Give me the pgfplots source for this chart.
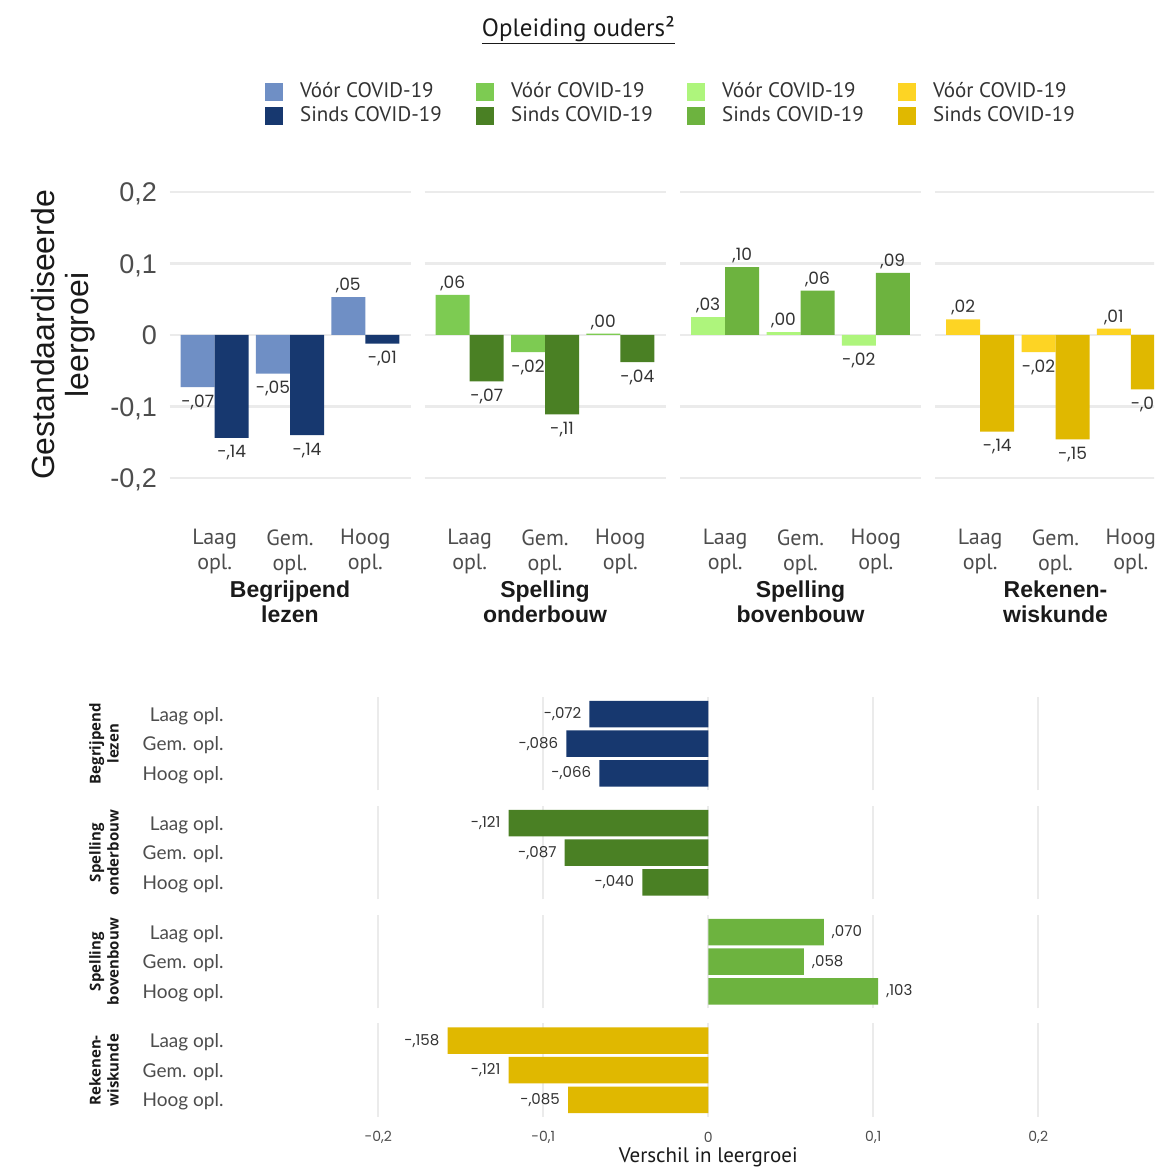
\documentclass[border=0pt]{standalone}
\usepackage{fontspec}
\setmainfont{Liberation Sans}
\newfontfamily\ptsans{PT Sans}
\newfontfamily\pop{Poppins}
\newfontfamily\lato{Lato}
\newfontfamily\osans{Open Sans}
\usepackage{pgfplots}
\usepackage{pgfplotstable}
\pgfplotsset{compat=1.18}

\definecolor{blueA}{HTML}{6F8FC5}
\definecolor{blueB}{HTML}{17386F}
\definecolor{grnA}{HTML}{7DCB52}
\definecolor{grnB}{HTML}{4A8024}
\definecolor{limA}{HTML}{AEF57C}
\definecolor{limB}{HTML}{6DB33F}
\definecolor{ylwA}{HTML}{FDD424}
\definecolor{ylwB}{HTML}{E0B800}
\definecolor{gridc}{HTML}{EBEBEB}
\definecolor{txt}{HTML}{1A1A1A}
\definecolor{tickc}{HTML}{4D4D4D}
\definecolor{lbl}{HTML}{333333}

\newcommand{\fs}[2]{\fontsize{#1}{#2}\selectfont}

% top panel: x = group, v = voor, s = sinds (labels as printed)
\pgfplotstableread{
x v lv s ls
1 -0.073 -,07 -0.144 -,14
2 -0.054 -,05 -0.140 -,14
3 0.053 ,05 -0.012 -,01
}\tBL
\pgfplotstableread{
x v lv s ls
1 0.056 ,06 -0.065 -,07
2 -0.024 -,02 -0.111 -,11
3 0.002 ,00 -0.038 -,04
}\tSO
\pgfplotstableread{
x v lv s ls
1 0.025 ,03 0.095 ,10
2 0.004 ,00 0.062 ,06
3 -0.015 -,02 0.087 ,09
}\tSB
\pgfplotstableread{
x v lv s ls
1 0.022 ,02 -0.135 -,14
2 -0.024 -,02 -0.146 -,15
3 0.009 ,01 -0.076 -,08
}\tRW

% bottom panel: y 3 = Laag, 2 = Gem., 1 = Hoog
\pgfplotstableread{
y d lab
3 -0.072 -,072
2 -0.086 -,086
1 -0.066 -,066
}\dBL
\pgfplotstableread{
y d lab
3 -0.121 -,121
2 -0.087 -,087
1 -0.040 -,040
}\dSO
\pgfplotstableread{
y d lab
3 0.070 ,070
2 0.058 ,058
1 0.103 ,103
}\dSB
\pgfplotstableread{
y d lab
3 -0.158 -,158
2 -0.121 -,121
1 -0.085 -,085
}\dRW

\pgfplotsset{
  topfacet/.style={
    scale only axis, width=241pt, height=286pt, anchor=south west,
    xmin=0.4, xmax=3.6, ymin=-0.2, ymax=0.2,
    ybar=0pt, bar width=34pt,
    axis line style={draw=none}, major tick style={draw=none},
    ytick={-0.2,-0.1,0,0.1,0.2}, yticklabels={},
    ymajorgrids, grid style={gridc, line width=2.5pt},
    xtick={1,2,3},
    xticklabels={{Laag\\opl.},{Gem.\\opl.},{Hoog\\opl.}},
    xticklabel style={align=center, anchor=north, inner sep=0pt, yshift=-47pt,
      font=\ptsans\fs{22}{25}, text=tickc},
    xlabel style={at={(axis description cs:0.5,0)}, anchor=north, yshift=-103pt,
      inner sep=0pt, align=center, font=\bfseries\fs{23}{25}, text=txt},
    nodes near coords, point meta=explicit symbolic,
    visualization depends on={y \as \yv},
    every node near coord/.append style={font=\pop\fs{17}{20}, text=lbl,
      inner sep=2pt, text height=17.8pt, text depth=4.3pt,
      anchor={\ifdim\yv pt<0pt north\else south\fi}},
  },
  botfacet/.style={
    scale only axis, width=940.5pt, height=93.5pt, anchor=north west,
    xmin=-0.285, xmax=0.285, ymin=0.42, ymax=3.58,
    xbar, bar width=26.5pt, bar shift=0pt,
    axis line style={draw=none}, major tick style={draw=none},
    xtick={-0.2,-0.1,0,0.1,0.2}, xticklabels={},
    xmajorgrids, grid style={gridc, line width=2pt},
    ytick={1,2,3}, yticklabels={Hoog opl.,Gem. opl.,Laag opl.},
    yticklabel style={font=\lato\fs{19}{22}, text=tickc, inner sep=0pt,
      xshift=-10pt, text height=13.7pt, text depth=0pt},
    ylabel style={at={(axis description cs:-0.1425,0.5)}, anchor=center,
      align=center, font=\osans\bfseries\fs{15}{18}, text=txt},
    nodes near coords, point meta=explicit symbolic,
    visualization depends on={x \as \xv},
    every node near coord/.append style={font=\pop\fs{15}{17}, text=lbl,
      inner xsep=8pt, anchor={\ifdim\xv pt<0pt east\else west\fi}},
  },
}

\begin{document}
\begin{tikzpicture}
\useasboundingbox (0,0) rectangle (1154pt,1169pt);
\clip (0,0) rectangle (1154pt,1169pt);
\fill[white] (0,0) rectangle (1154pt,1169pt);

\node[font=\ptsans\fs{25}{28}, text=txt, anchor=base] at (578.5pt,1132pt)
  {\underline{Opleiding ouders²}};

% legend
\begin{axis}[at={(265pt,1087pt)}, anchor=north west, scale only axis,
  width=10pt, height=10pt, hide axis, xmin=0, xmax=1, ymin=0, ymax=1,
  legend columns=4, legend cell align=left,
  legend style={at={(0,1)}, anchor=north west, draw=none, fill=none,
    inner sep=0pt, column sep=0pt, row sep=4pt,
    font=\ptsans\fs{21}{24}, text=lbl,
    nodes={inner sep=0pt, text height=15pt, text depth=5pt}},
  legend image code/.code={\path[#1] (0pt,-9pt) rectangle (18pt,9pt);},
]
\addlegendimage{fill=blueA, draw=none}
\addlegendentry{\hspace*{17pt}\makebox[176pt][l]{Vóór COVID-19}}
\addlegendimage{fill=grnA, draw=none}
\addlegendentry{\hspace*{17pt}\makebox[176pt][l]{Vóór COVID-19}}
\addlegendimage{fill=limA, draw=none}
\addlegendentry{\hspace*{17pt}\makebox[176pt][l]{Vóór COVID-19}}
\addlegendimage{fill=ylwA, draw=none}
\addlegendentry{\hspace*{17pt}\makebox[176pt][l]{Vóór COVID-19}}
\addlegendimage{fill=blueB, draw=none}
\addlegendentry{\hspace*{17pt}\makebox[176pt][l]{Sinds COVID-19}}
\addlegendimage{fill=grnB, draw=none}
\addlegendentry{\hspace*{17pt}\makebox[176pt][l]{Sinds COVID-19}}
\addlegendimage{fill=limB, draw=none}
\addlegendentry{\hspace*{17pt}\makebox[176pt][l]{Sinds COVID-19}}
\addlegendimage{fill=ylwB, draw=none}
\addlegendentry{\hspace*{17pt}\makebox[176pt][l]{Sinds COVID-19}}
\end{axis}

% ---------- top panel ----------
\begin{axis}[topfacet, at={(169.5pt,691pt)},
  yticklabels={{-0,2},{-0,1},0,{0,1},{0,2}},
  yticklabel style={font=\fs{27}{30}, text=tickc, inner sep=0pt, xshift=-12.5pt,
    text height=19.4pt, text depth=0pt, anchor=east},
  ylabel={Gestandaardiseerde\\leergroei},
  ylabel style={at={(axis description cs:-0.442,0.5)}, anchor=center,
    align=center, font=\fs{32}{34}, text=txt},
  xlabel={Begrijpend\\lezen}]
\addplot[fill=blueA, draw=none] table[x=x, y=v, meta=lv] {\tBL};
\addplot[fill=blueB, draw=none] table[x=x, y=s, meta=ls] {\tBL};
\end{axis}

\begin{axis}[topfacet, at={(424.5pt,691pt)}, xlabel={Spelling\\onderbouw}]
\addplot[fill=grnA, draw=none] table[x=x, y=v, meta=lv] {\tSO};
\addplot[fill=grnB, draw=none] table[x=x, y=s, meta=ls] {\tSO};
\end{axis}

\begin{axis}[topfacet, at={(680pt,691pt)}, xlabel={Spelling\\bovenbouw}]
\addplot[fill=limA, draw=none] table[x=x, y=v, meta=lv] {\tSB};
\addplot[fill=limB, draw=none] table[x=x, y=s, meta=ls] {\tSB};
\end{axis}

\begin{axis}[topfacet, at={(935pt,691pt)}, xlabel={Rekenen-\\wiskunde}]
\addplot[fill=ylwA, draw=none] table[x=x, y=v, meta=lv] {\tRW};
\addplot[fill=ylwB, draw=none] table[x=x, y=s, meta=ls] {\tRW};
\end{axis}

% ---------- bottom panel ----------
\begin{axis}[botfacet, at={(238pt,472pt)}, ylabel={Begrijpend\\lezen}]
\addplot[fill=blueB, draw=none] table[x=d, y=y, meta=lab] {\dBL};
\end{axis}

\begin{axis}[botfacet, at={(238pt,363pt)}, ylabel={Spelling\\onderbouw}]
\addplot[fill=grnB, draw=none] table[x=d, y=y, meta=lab] {\dSO};
\end{axis}

\begin{axis}[botfacet, at={(238pt,254pt)}, ylabel={Spelling\\bovenbouw}]
\addplot[fill=limB, draw=none] table[x=d, y=y, meta=lab] {\dSB};
\end{axis}

\begin{axis}[botfacet, at={(238pt,145.5pt)}, ylabel={Rekenen-\\wiskunde},
  xticklabels={{-0,2},{-0,1},0,{0,1},{0,2}},
  xticklabel style={font=\pop\fs{14}{16}, text=tickc, inner sep=0pt,
    anchor=center, yshift=-20pt},
  xlabel={Verschil in leergroei},
  xlabel style={at={(axis description cs:0.5,0)}, anchor=center, yshift=-40pt,
    font=\ptsans\fs{21}{24}, text=txt}]
\addplot[fill=ylwB, draw=none] table[x=d, y=y, meta=lab] {\dRW};
\end{axis}
\end{tikzpicture}
\end{document}
